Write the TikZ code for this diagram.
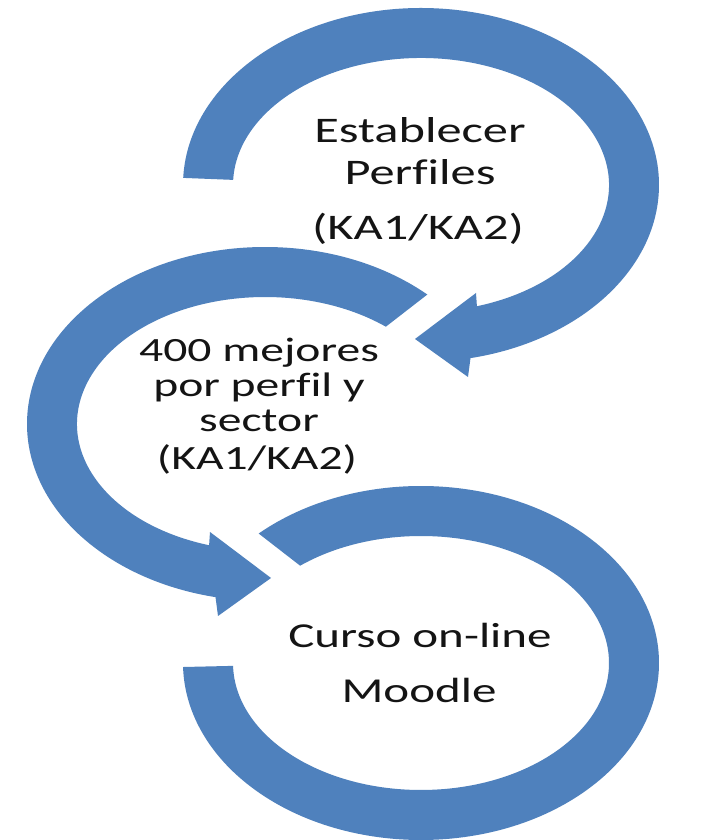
\documentclass[tikz,border=0pt]{standalone}
\usepackage{fontspec}
\setmainfont{Carlito}[FakeStretch=1.40,Ligatures={NoCommon}]
\definecolor{arrowblue}{RGB}{79,129,189}
\definecolor{labeltext}{RGB}{20,20,20}
\begin{document}
\begin{tikzpicture}[x=1pt,y=1pt,
  band/.style={fill=arrowblue,draw=none},
  lbl/.style={anchor=base,inner sep=0pt,text=labeltext},
  bigtxt/.style={lbl,font=\fontsize{36}{36}\selectfont},
  lowtxt/.style={lbl,font=\fontsize{35}{35}\selectfont},
  midtxt/.style={lbl,font=\fontsize{34}{34}\selectfont}]
\useasboundingbox (0,0) rectangle (706,840);
\fill[white] (0,0) rectangle (706,840);
\coordinate (c1) at (421,655);
\coordinate (c2) at (265,416);
\coordinate (c3) at (421,177);
% top circular arrow
\coordinate (tA) at (476,547);
\coordinate (tT) at (415,501);
\coordinate (tB) at (468,463);
\fill[band] ([shift={(177.7:238 and 177)}]c1)
  arc[start angle=177.7,end angle=-78,x radius=238,y radius=177]
  -- (tB) -- (tT) -- (tA)
  -- ([shift={(-72.7:188 and 127)}]c1)
  arc[start angle=-72.7,end angle=177.7,x radius=188,y radius=127] -- cycle;
% middle circular arrow
\coordinate (mA) at (210,308);
\coordinate (mT) at (271,262);
\coordinate (mB) at (218,224);
\fill[band] ([shift={(47:238 and 177)}]c2)
  arc[start angle=47,end angle=258,x radius=238,y radius=177]
  -- (mB) -- (mT) -- (mA)
  -- ([shift={(252.7:188 and 127)}]c2)
  arc[start angle=252.7,end angle=50,x radius=188,y radius=127] -- cycle;
% bottom circular band
\fill[band] ([shift={(133:238 and 177)}]c3)
  arc[start angle=133,end angle=-178.7,x radius=238,y radius=177]
  -- ([shift={(-178.7:188 and 127)}]c3)
  arc[start angle=-178.7,end angle=130,x radius=188,y radius=127] -- cycle;
% texts
\node[bigtxt] (t1) at (420,697) {Establecer};
\node[bigtxt] (t2) at (420,655) {Perfiles};
\node[bigtxt] (t3) at (418,600) {(KA1/KA2)};
\node[midtxt] (m1) at (259,478) {400 mejores};
\node[midtxt] (m2) at (259,443) {por perfil y};
\node[midtxt] (m3) at (259,408) {sector};
\node[midtxt] (m4) at (257,370) {(KA1/KA2)};
\node[lowtxt] (b1) at (420,192) {Curso on-line};
\node[lowtxt] (b2) at (419,137) {Moodle};
\end{tikzpicture}
\end{document}
